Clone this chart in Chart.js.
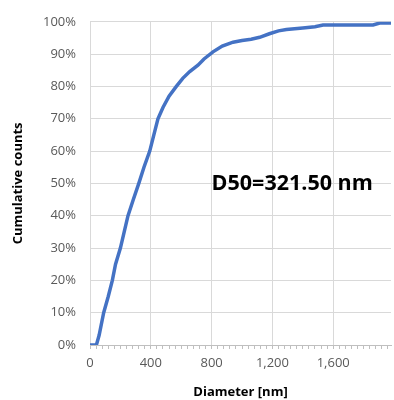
<!DOCTYPE html>
<html lang="en">
<head>
    <meta charset="UTF-8">
    <title>Cumulative counts</title>
    <script src="https://cdn.jsdelivr.net/npm/chart.js"></script>
    <style>
        html, body { margin: 0; padding: 0; background: #fff; }
        #wrap { width: 394px; height: 400px; }
    </style>
</head>
<body>
    <div id="wrap"><canvas id="cdfChart" width="394" height="400"></canvas></div>

    <script>
        // Data
        const diameters = [0, 42, 60, 90, 120, 147, 168, 200, 225, 250, 285, 321, 355, 393, 420, 447, 480, 520, 568, 610, 656, 710, 750, 809, 870, 941, 1000, 1060, 1116, 1180, 1240, 1292, 1400, 1480, 1533, 1700, 1862, 1906, 1980];
        const cumulative = [0, 0, 3, 10, 15, 20, 25, 30, 35, 40, 45, 50, 55, 60, 65, 70, 73.5, 77, 80, 82.5, 84.6, 86.6, 88.5, 90.7, 92.5, 93.7, 94.2, 94.6, 95.2, 96.3, 97.2, 97.6, 98.1, 98.5, 99.0, 99.0, 99.0, 99.6, 99.6];
        const xMajorTicks = [0, 400, 800, 1200, 1600];
        const yTicks = [0, 10, 20, 30, 40, 50, 60, 70, 80, 90, 100];
        const d50Label = 'D50=321.50 nm';

        const points = diameters.map((d, i) => ({ x: d, y: cumulative[i] }));
        const gridGray = '#d9d9d9';
        const labelGray = '#595959';
        const fontFamily = "'Open Sans', 'DejaVu Sans', sans-serif";

        // Annotation text drawn on the plot
        const d50Plugin = {
            id: 'd50',
            afterDatasetsDraw(chart) {
                const { ctx, scales } = chart;
                ctx.save();
                ctx.font = "bold 21.5px " + fontFamily;
                ctx.fillStyle = '#000';
                ctx.textBaseline = 'middle';
                ctx.textAlign = 'left';
                ctx.fillText(d50Label, scales.x.getPixelForValue(800), scales.y.getPixelForValue(50));
                ctx.restore();
            }
        };

        new Chart(document.getElementById('cdfChart'), {
            type: 'scatter',
            data: {
                datasets: [{
                    data: points,
                    showLine: true,
                    borderColor: '#4472C4',
                    borderWidth: 3.5,
                    pointRadius: 0,
                    tension: 0
                }]
            },
            options: {
                responsive: false,
                animation: false,
                layout: { padding: { left: 0, top: 16, right: 3, bottom: 0 } },
                plugins: { legend: { display: false }, tooltip: { enabled: false } },
                scales: {
                    x: {
                        type: 'linear',
                        min: 0,
                        max: 1980,
                        afterBuildTicks: (s) => {
                            const t = [];
                            for (let v = 0; v < 1980; v += 40) t.push({ value: v });
                            s.ticks = t;
                        },
                        afterFit: (s) => { s.height = 55; },
                        grid: {
                            color: (c) => (c.tick && xMajorTicks.includes(c.tick.value)) ? gridGray : 'rgba(0,0,0,0)',
                            tickColor: '#bfbfbf',
                            tickLength: 4,
                            lineWidth: 1
                        },
                        border: { color: '#bfbfbf' },
                        ticks: {
                            autoSkip: false,
                            maxRotation: 0,
                            padding: 6,
                            color: labelGray,
                            font: { family: fontFamily, size: 13 },
                            callback: (v) => xMajorTicks.includes(v) ? v.toLocaleString('en-US') : ''
                        },
                        title: {
                            display: true,
                            text: 'Diameter [nm]',
                            color: '#000',
                            font: { family: fontFamily, size: 13, weight: 'bold' },
                            padding: { top: 0, bottom: 0 }
                        }
                    },
                    y: {
                        min: 0,
                        max: 100,
                        afterBuildTicks: (s) => { s.ticks = yTicks.map(v => ({ value: v })); },
                        afterFit: (s) => { s.width = 90; },
                        grid: { color: gridGray, drawTicks: false },
                        border: { display: false },
                        ticks: {
                            padding: 14,
                            color: labelGray,
                            font: { family: fontFamily, size: 13 },
                            callback: (v) => v + '%'
                        },
                        title: {
                            display: true,
                            text: 'Cumulative counts',
                            color: '#000',
                            font: { family: fontFamily, size: 13, weight: 'bold' },
                            padding: { top: 10, bottom: 0 }
                        }
                    }
                }
            },
            plugins: [d50Plugin]
        });
    </script>
</body>
</html>
